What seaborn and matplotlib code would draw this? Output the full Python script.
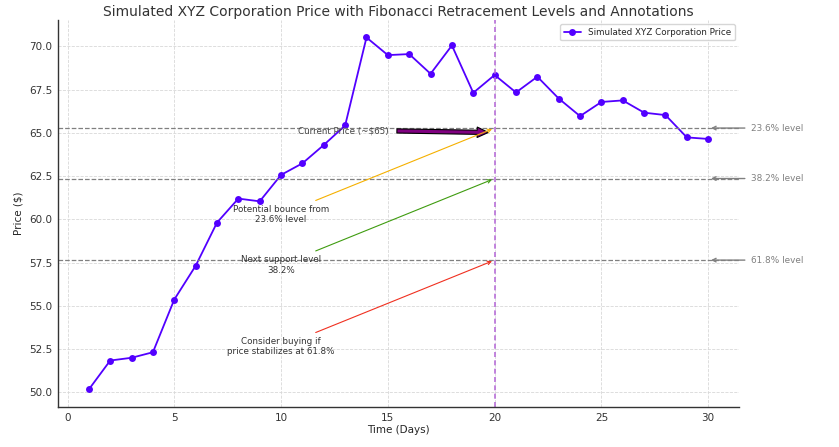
import numpy as np
import pandas as pd
import matplotlib
matplotlib.use('Agg')
import matplotlib.pyplot as plt
import seaborn as sns

# data
days = list(range(1, 31))
prices = [50.16, 51.83, 51.99, 52.31, 55.36, 57.31, 59.81, 61.20, 61.04, 62.57,
          63.24, 64.30, 65.43, 70.52, 69.50, 69.56, 68.42, 70.06, 67.32, 68.35,
          67.34, 68.25, 66.99, 65.97, 66.79, 66.88, 66.17, 66.03, 64.74, 64.65]
swing_high = 70.0
swing_low = 50.0
fib_ratios = [0.236, 0.382, 0.618]
fib_names = ['23.6% level', '38.2% level', '61.8% level']
notes = ['Potential bounce from\n23.6% level', 'Next support level\n38.2%',
         'Consider buying if\nprice stabilizes at 61.8%']
note_colors = ['#f5b000', '#3f9c10', '#f03020']
current_day = 20

df = pd.DataFrame({'Day': days, 'Price': prices})
levels = [swing_high - r * (swing_high - swing_low) for r in fib_ratios]

sns.set_style('whitegrid', {'grid.linestyle': '--', 'grid.color': '#d8d8d8',
                            'axes.edgecolor': '#333333'})
plt.rcParams['font.family'] = ['DejaVu Sans']
plt.rcParams['grid.linewidth'] = 0.6

fig = plt.figure(figsize=(8.39, 4.47), dpi=100)
ax = fig.add_axes([0.069, 0.0895, 0.812, 0.866])

sns.lineplot(data=df, x='Day', y='Price', marker='o', color='#5200ff', lw=1.3,
             markersize=5, markeredgewidth=0, label='Simulated XYZ Corporation Price', ax=ax)

for lvl, name in zip(levels, fib_names):
    ax.axhline(lvl, color='gray', linestyle='--', lw=0.9)
    ax.annotate(name, xy=(30, lvl), xytext=(32, lvl), color='gray', fontsize=6.4,
                va='center', ha='left', annotation_clip=False,
                arrowprops=dict(arrowstyle='->', color='gray'))

ax.axvline(current_day, color='#b870d8', linestyle=(0, (3, 2)), lw=1.2)

ax.annotate('Current Price (~$65)', xy=(current_day - 0.05, 65.02), xytext=(12.9, 65.12),
            fontsize=6.3, color='#444444', ha='center', va='center',
            arrowprops=dict(facecolor='purple', edgecolor='black', shrink=0.05, width=3,
                            headwidth=7.5, headlength=8, lw=0.8))

for lvl, txt, c in zip(levels, notes, note_colors):
    ax.annotate(txt, xy=(current_day, lvl), xytext=(10, lvl - 5), fontsize=6.3,
                color='#333333', ha='center', va='center',
                arrowprops=dict(arrowstyle='->', color=c, lw=0.8))

ax.set_title('Simulated XYZ Corporation Price with Fibonacci Retracement Levels and Annotations',
             fontsize=10, color='#333333', pad=3)
ax.set_xlabel('Time (Days)', fontsize=7.5, labelpad=2)
ax.set_ylabel('Price ($)', fontsize=7.5, labelpad=4)
ax.tick_params(labelsize=7.5, length=2, pad=2, colors='#333333')
ax.yaxis.set_major_formatter(matplotlib.ticker.FormatStrFormatter('%.1f'))
ax.legend(loc='upper right', fontsize=6.3, frameon=True)
sns.despine(ax=ax)
for s in ['left', 'bottom']:
    ax.spines[s].set_linewidth(1.0)

fig.savefig('out.png', dpi=100)
